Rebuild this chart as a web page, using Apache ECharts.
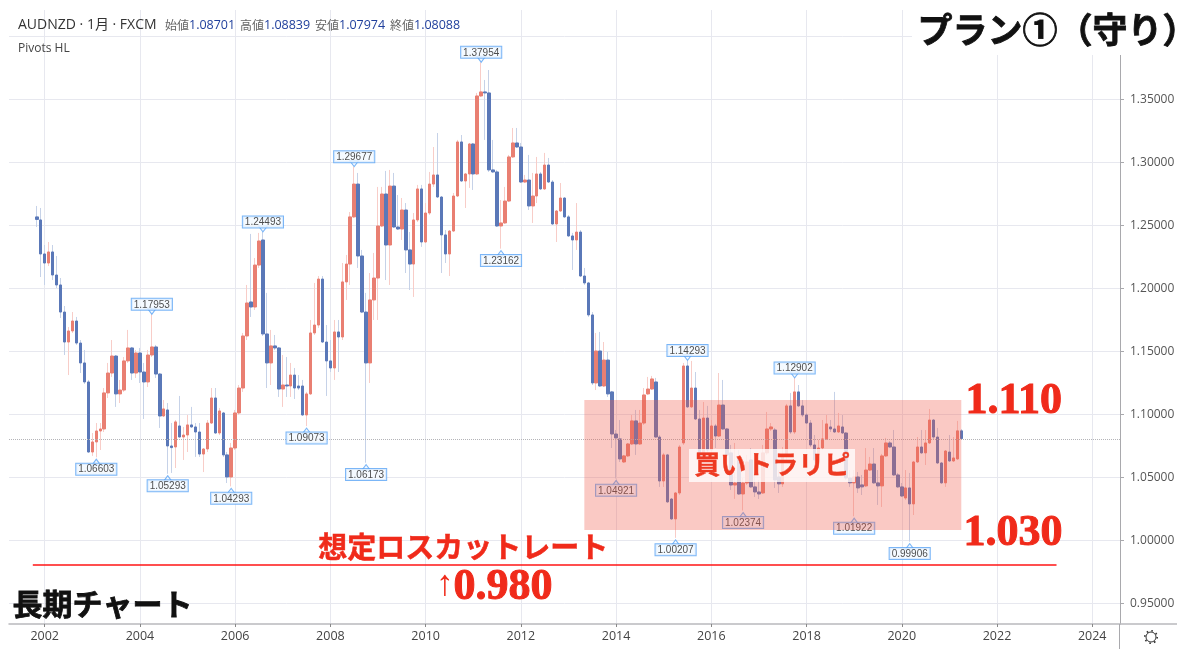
<!DOCTYPE html>
<html>
<head>
<meta charset="utf-8">
<title>AUDNZD</title>
<style>html,body{margin:0;padding:0;background:#fff}#chart{width:1200px;height:649px}</style>
<script src="https://cdn.jsdelivr.net/npm/echarts@6/dist/echarts.min.js"></script>
</head>
<body>
<div id="chart"></div>
<script>
// 月足 2001-11 .. 2021-04
var firstBar = 7; // index of 2001-11 on the axis, axis starts 2001-04
var opens = [
1.2568,1.2544,1.2274,1.2202,1.2290,1.2107,1.2028,1.1813,1.1575,1.1663,
1.1742,1.1567,1.1409,1.1258,1.0702,1.0782,1.0869,1.0885,1.1171,1.1329,
1.1464,1.1163,1.1194,1.1425,1.1528,1.1329,1.1488,1.1337,1.1258,1.1472,
1.1536,1.1321,1.0988,1.1036,1.0750,1.0742,1.0909,1.0821,1.0837,1.0917,
1.0901,1.0861,1.0686,1.0726,1.0932,1.1131,1.0853,1.1012,1.0679,1.0504,
1.0734,1.1012,1.1210,1.1623,1.1893,1.1853,1.2186,1.2385,1.1639,1.1409,
1.1544,1.1528,1.1202,1.1234,1.1226,1.1313,1.1226,1.1226,1.0996,1.1163,
1.1647,1.1710,1.2075,1.1575,1.1425,1.1369,1.1655,1.1615,1.2052,1.2194,
1.2568,1.2829,1.2258,1.1813,1.1409,1.1909,1.2083,1.2496,1.2750,1.2345,
1.2813,1.2488,1.2472,1.2623,1.2306,1.2194,1.2544,1.2790,1.2369,1.2599,
1.2829,1.2901,1.2726,1.2425,1.2274,1.2456,1.2734,1.3163,1.2853,1.2909,
1.3147,1.2909,1.3528,1.3560,1.3552,1.2941,1.2925,1.2496,1.2520,1.2694,
1.3044,1.3155,1.3123,1.2845,1.2861,1.2655,1.2734,1.2909,1.2790,1.2980,
1.2845,1.2512,1.2615,1.2718,1.2568,1.2417,1.2385,1.2448,1.2099,1.2044,
1.1790,1.1250,1.1504,1.1226,1.1432,1.1179,1.0845,1.0806,1.0623,1.0671,
1.0766,1.0949,1.0766,1.0932,1.1163,1.1202,1.1258,1.0821,1.0472,1.0679,
1.0329,1.0171,1.0377,1.0774,1.1385,1.1060,1.1210,1.0964,1.0655,1.0972,
1.0718,1.0909,1.0829,1.1075,1.0885,1.0695,1.0440,1.0655,1.0369,1.0456,
1.0639,1.0425,1.0385,1.0377,1.0695,1.0885,1.0877,1.0504,1.0449,1.0679,
1.1068,1.0861,1.1179,1.1068,1.0996,1.0932,1.0758,1.0639,1.0734,1.0806,
1.0901,1.0885,1.0861,1.0901,1.0853,1.0496,1.0457,1.0504,1.0441,1.0433,
1.0559,1.0607,1.0457,1.0433,1.0671,1.0774,1.0742,1.0520,1.0425,1.0337,
1.0417,1.0290,1.0623,1.0742,1.0695,1.0774,1.0956,1.0821,1.0615,1.0457,
1.0702,1.0631,1.0647,1.08701];
var closes = [
1.2548,1.2274,1.2202,1.2290,1.2107,1.2028,1.1813,1.1575,1.1663,1.1742,
1.1567,1.1409,1.1258,1.0702,1.0782,1.0869,1.0885,1.1171,1.1329,1.1464,
1.1163,1.1194,1.1425,1.1528,1.1329,1.1488,1.1337,1.1258,1.1472,1.1536,
1.1321,1.0988,1.1044,1.0750,1.0737,1.0941,1.0821,1.0837,1.0917,1.0901,
1.0861,1.0686,1.0726,1.0932,1.1131,1.0853,1.1028,1.0679,1.0504,1.0734,
1.1012,1.1210,1.1623,1.1885,1.1853,1.2186,1.2377,1.1639,1.1409,1.1544,
1.1528,1.1202,1.1234,1.1226,1.1313,1.1210,1.1210,1.0996,1.1163,1.1647,
1.1710,1.2075,1.1575,1.1425,1.1369,1.1655,1.1615,1.2052,1.2194,1.2568,
1.2829,1.2258,1.1813,1.1409,1.1909,1.2083,1.2496,1.2750,1.2345,1.2813,
1.2488,1.2472,1.2623,1.2306,1.2194,1.2544,1.2790,1.2369,1.2599,1.2829,
1.2901,1.2726,1.2425,1.2274,1.2456,1.2734,1.3163,1.2853,1.2909,1.3147,
1.2909,1.3528,1.3560,1.3552,1.2941,1.2925,1.2496,1.2520,1.2694,1.3044,
1.3155,1.3123,1.2845,1.2861,1.2655,1.2734,1.2909,1.2790,1.2980,1.2845,
1.2512,1.2615,1.2718,1.2568,1.2417,1.2385,1.2448,1.2099,1.2044,1.1790,
1.1250,1.1504,1.1226,1.1432,1.1163,1.0845,1.0814,1.0647,1.0671,1.0766,
1.0949,1.0766,1.0932,1.1155,1.1202,1.1282,1.0821,1.0472,1.0679,1.0306,
1.0171,1.0377,1.0742,1.1385,1.1060,1.1210,1.0964,1.0655,1.0972,1.0718,
1.0909,1.0829,1.1075,1.0885,1.0679,1.0440,1.0456,1.0369,1.0456,1.0623,
1.0425,1.0385,1.0369,1.0695,1.0885,1.0901,1.0480,1.0449,1.0679,1.1068,
1.0861,1.1179,1.1068,1.0996,1.0932,1.0758,1.0639,1.0734,1.0806,1.0925,
1.0885,1.0861,1.0909,1.0853,1.0496,1.0457,1.0504,1.0417,1.0425,1.0559,
1.0607,1.0457,1.0433,1.0671,1.0774,1.0742,1.0520,1.0425,1.0353,1.0417,
1.0290,1.0623,1.0742,1.0695,1.0774,1.0956,1.0821,1.0615,1.0457,1.0710,
1.0631,1.0655,1.0870,1.08088];
var lows = [
1.2488,1.2091,1.2028,1.2178,1.2067,1.2004,1.1766,1.1472,1.1313,1.1647,
1.1552,1.1329,1.1242,1.0695,1.0671,1.06603,1.0718,1.0861,1.1131,1.1298,
1.1060,1.1091,1.1179,1.1409,1.1274,1.1290,1.1250,1.0964,1.1218,1.1456,
1.1290,1.0893,1.0980,1.05293,1.0536,1.0575,1.0817,1.0639,1.0702,1.0893,
1.0663,1.0663,1.0543,1.0702,1.0925,1.0845,1.0837,1.0663,1.0456,1.04293,
1.0718,1.0996,1.1179,1.1591,1.1774,1.1829,1.2163,1.1623,1.1210,1.1234,
1.1512,1.1139,1.1060,1.1139,1.1139,1.1123,1.1194,1.0988,1.09073,1.1155,
1.1631,1.1687,1.1567,1.1147,1.1337,1.1274,1.1337,1.1591,1.1909,1.2028,
1.2560,1.2163,1.1805,1.06173,1.1250,1.1750,1.1750,1.2488,1.2067,1.2028,
1.2480,1.2464,1.2385,1.2123,1.1988,1.1933,1.2528,1.2330,1.2361,1.2583,
1.2806,1.2718,1.2123,1.2202,1.2099,1.2448,1.2726,1.2845,1.2639,1.2798,
1.2782,1.2901,1.3520,1.3179,1.2925,1.2917,1.2488,1.23162,1.2512,1.2686,
1.3036,1.3115,1.2837,1.2837,1.2623,1.2520,1.2678,1.2782,1.2782,1.2837,
1.2504,1.2369,1.2607,1.2560,1.2409,1.2147,1.2306,1.2091,1.2028,1.1774,
1.1234,1.1194,1.1218,1.1218,1.1139,1.0734,1.04921,1.0623,1.0615,1.0663,
1.0758,1.0679,1.0758,1.0917,1.1155,1.1194,1.0814,1.0425,1.0425,1.0298,
1.0163,1.00207,1.0361,1.0758,1.1052,1.1052,1.0956,1.0623,1.0639,1.0679,
1.0559,1.0734,1.0821,1.0877,1.0559,1.0401,1.0330,1.0361,1.02374,1.0440,
1.0417,1.0345,1.0329,1.0369,1.0679,1.0869,1.0417,1.0377,1.0425,1.0623,
1.0845,1.0845,1.1060,1.0980,1.0925,1.0742,1.0520,1.0599,1.0718,1.0798,
1.0861,1.0853,1.0853,1.0845,1.0480,1.0425,1.01922,1.0377,1.0361,1.0425,
1.0551,1.0449,1.0282,1.0266,1.0663,1.0734,1.0512,1.0417,1.0345,1.0321,
0.99906,1.0202,1.0615,1.0687,1.0599,1.0766,1.0798,1.0607,1.0449,1.0425,
1.0623,1.0623,1.0639,1.07974];
var highs = [
1.2655,1.2639,1.2345,1.2369,1.2345,1.2258,1.2083,1.1861,1.1694,1.1813,
1.1774,1.1591,1.1512,1.1274,1.0853,1.0932,1.0932,1.1210,1.1409,1.1591,
1.1472,1.1274,1.1456,1.1671,1.1536,1.1512,1.1528,1.1409,1.1512,1.17953,
1.1552,1.1329,1.1115,1.1091,1.0932,1.0956,1.1147,1.0901,1.0996,1.1060,
1.0932,1.0932,1.0734,1.0956,1.1210,1.1210,1.1052,1.1020,1.0702,1.0774,
1.1036,1.1234,1.1647,1.2028,1.2433,1.2242,1.2441,1.24493,1.1965,1.1671,
1.1631,1.1536,1.1472,1.1456,1.1409,1.1369,1.1313,1.1274,1.1179,1.1750,
1.2044,1.2099,1.2099,1.1710,1.1591,1.1750,1.1750,1.2202,1.2266,1.2607,
1.29677,1.2917,1.2306,1.1965,1.2123,1.2282,1.2806,1.2806,1.2933,1.2941,
1.2917,1.2742,1.2718,1.2678,1.2448,1.2599,1.2822,1.2822,1.2678,1.2925,
1.3123,1.3234,1.2734,1.2464,1.2464,1.2758,1.3179,1.3218,1.2917,1.3155,
1.3155,1.3552,1.37954,1.3655,1.3734,1.3179,1.2941,1.2702,1.2806,1.3060,
1.3274,1.3274,1.3155,1.2901,1.3060,1.2917,1.3044,1.2925,1.3076,1.3036,
1.2861,1.2623,1.2837,1.2726,1.2583,1.2441,1.2678,1.2464,1.2163,1.2052,
1.1813,1.1647,1.1655,1.1575,1.1496,1.1187,1.0877,1.0956,1.0679,1.0774,
1.0996,1.1036,1.1036,1.1210,1.1298,1.1306,1.1290,1.0837,1.0695,1.0687,
1.0337,1.0385,1.0758,1.1409,1.14293,1.1425,1.1337,1.1036,1.1099,1.1068,
1.0956,1.0925,1.1329,1.1274,1.0893,1.0758,1.0774,1.0718,1.0496,1.0679,
1.0734,1.0559,1.0480,1.0758,1.1020,1.0932,1.0893,1.0559,1.0742,1.1084,
1.1171,1.12902,1.1234,1.1115,1.1012,1.0956,1.0837,1.0798,1.0956,1.0996,
1.0956,1.1179,1.1012,1.0996,1.0861,1.0559,1.0559,1.0543,1.0520,1.0734,
1.0663,1.0734,1.0559,1.0687,1.0814,1.0790,1.0877,1.0536,1.0456,1.0559,
1.0536,1.0631,1.0821,1.0877,1.0877,1.1044,1.0964,1.0893,1.0623,1.0718,
1.0837,1.0821,1.0949,1.08839];

// Pivots HL, 位置は opens の添字
var pivotHighBars = [29,57,80,112,164,191];
var pivotHighValues = [1.17953,1.24493,1.29677,1.37954,1.14293,1.12902];
var pivotLowBars = [15,33,49,68,83,117,146,161,178,206,220];
var pivotLowValues = [1.06603,1.05293,1.04293,1.09073,1.06173,1.23162,1.04921,1.00207,1.02374,1.01922,0.99906];

var yTicks = [0.95,1.00,1.05,1.10,1.15,1.20,1.25,1.30,1.35];
var yGridTicks = yTicks.concat([1.40]);
var lastClose = 1.08088;
var stopLossLevel = 0.981;
var rangeTop = 1.1115, rangeBottom = 1.0083;

var categories = [];
(function(){
  var y = 2001, m = 4;
  for (var i = 0; i < 281; i++) {
    categories.push(y + '-' + (m < 10 ? '0' + m : m));
    m++;
    if (m > 12) { m = 1; y++; }
  }
})();

function isEvenYearStart(index){
  var c = categories[index];
  return c.slice(5) === '01' && parseInt(c.slice(0,4),10) % 2 === 0;
}

var wickData = [], bodyData = [];
for (var p = 0; p < firstBar; p++) {
  wickData.push(['-','-','-','-']);
  bodyData.push(['-','-','-','-']);
}
for (var k = 0; k < opens.length; k++) {
  wickData.push([opens[k],closes[k],lows[k],highs[k]]);
  bodyData.push([opens[k],closes[k],Math.min(opens[k],closes[k]),Math.max(opens[k],closes[k])]);
}

function pivotPoints(bars,values){
  return bars.map(function(b,i){ return [b + firstBar, values[i]]; });
}

var gridColor = '#e7e8ef';
var pivotLabel = function(pos,dist){
  return {
    show:true, position:pos, distance:dist,
    formatter:function(d){ return d.value[1].toFixed(5); },
    fontFamily:'Liberation Sans', fontSize:10, color:'#222',
    backgroundColor:'#f3f9ff', borderColor:'#5aa4f5', borderWidth:1, padding:[1,2,0,2]
  };
};

function ohlcText(left,name,val){
  return {type:'text', z:20, left:left, top:19, style:{
    rich:{
      g:{fontFamily:'Noto Sans CJK JP',fontSize:12,fill:'#666'},
      b:{fontFamily:'Open Sans',fontSize:12.5,fill:'#1f3f9c'}
    },
    text:'{g|'+name+'}{b|'+val+'}'
  }};
}

var chart = echarts.init(document.getElementById('chart'));
chart.setOption({
  animation:false,
  backgroundColor:'#fff',
  grid:{left:9, right:80, top:10, bottom:25, containLabel:false},
  xAxis:{
    type:'category', data:categories, boundaryGap:false,
    axisLine:{lineStyle:{color:'#b9b9bd',width:1.5}},
    axisTick:{length:3, interval:isEvenYearStart, lineStyle:{color:'#888'}},
    axisLabel:{interval:isEvenYearStart, hideOverlap:false,
      formatter:function(v){ return v.slice(0,4); },
      fontFamily:'Open Sans', fontSize:12.5, color:'#444', margin:6},
    splitLine:{show:true, interval:isEvenYearStart, lineStyle:{color:gridColor,width:1}}
  },
  yAxis:{
    type:'value', position:'right', scale:true, min:0.9337, max:1.42103,
    axisLine:{show:true, onZero:false, lineStyle:{color:'#a9a9ad',width:1}},
    axisTick:{show:true, length:4, customValues:yGridTicks, lineStyle:{color:'#a9a9ad'}},
    axisLabel:{customValues:yTicks, margin:10,
      formatter:function(v){ return Number(v).toFixed(5); },
      fontFamily:'Open Sans', fontSize:12, color:'#555'},
    splitLine:{show:true, lineStyle:{color:gridColor,width:1}}
  },
  series:[
    {
      name:'wick', type:'candlestick', data:wickData, barWidth:1, z:2,
      itemStyle:{color:'#f8cdc8',color0:'#c6d2e8',borderColor:'#f8cdc8',borderColor0:'#c6d2e8',borderWidth:1},
      silent:true
    },
    {
      name:'AUDNZD', type:'candlestick', data:bodyData, barWidth:3, z:2,
      itemStyle:{color:'#e97f72',color0:'#5a78b8',borderColor:'#e97f72',borderColor0:'#5a78b8',borderWidth:1},
      markLine:{
        silent:true, symbol:'none', z:3, label:{show:false},
        data:[
          {yAxis:lastClose, lineStyle:{color:'#b4b4b8',type:'dotted',width:1}},
          [{coord:[6,stopLossLevel],lineStyle:{color:'#ff1414',type:'solid',width:1.6}},{coord:[264,stopLossLevel]}]
        ]
      },
      markArea:{
        silent:true, z:6, label:{show:false},
        itemStyle:{color:'rgba(240,90,75,0.33)'},
        data:[[{coord:[145,rangeTop]},{coord:[240,rangeBottom]}]]
      }
    },
    {
      name:'pivot high', type:'scatter', data:pivotPoints(pivotHighBars,pivotHighValues), z:4,
      symbol:'triangle', symbolRotate:180, symbolSize:[9,6], symbolOffset:[0,-3],
      itemStyle:{color:'#f3f9ff',borderColor:'#5aa4f5',borderWidth:1},
      label:pivotLabel('top',-2)
    },
    {
      name:'pivot low', type:'scatter', data:pivotPoints(pivotLowBars,pivotLowValues), z:4,
      symbol:'triangle', symbolSize:[9,6], symbolOffset:[0,5],
      itemStyle:{color:'#f3f9ff',borderColor:'#5aa4f5',borderWidth:1},
      label:pivotLabel('bottom',-2)
    }
  ],
  graphic:[
    {type:'text', z:20, left:18, top:18, style:{text:'AUDNZD · 1月 · FXCM',fontFamily:'Open Sans, Noto Sans CJK JP',fontSize:14,fill:'#333'}},
    ohlcText(165,'始値','1.08701'),
    ohlcText(240,'高値','1.08839'),
    ohlcText(315,'安値','1.07974'),
    ohlcText(390,'終値','1.08088'),
    {type:'text', z:20, left:18, top:43, style:{text:'Pivots HL',fontFamily:'Open Sans',fontSize:12,fill:'#444'}},
    // タイトルの白地
    {type:'rect', z:18, shape:{x:912,y:0,width:288,height:55}, style:{fill:'#fff'}},
    {type:'text', z:20, left:917, top:12, style:{text:'プラン①（守り）',fontFamily:'Noto Sans CJK JP',fontWeight:'bold',fontSize:35,fill:'#111',stroke:'#111',lineWidth:0.8}},
    {type:'text', z:20, left:12, top:588, style:{text:'長期チャート',fontFamily:'Noto Sans CJK JP',fontWeight:'bold',fontSize:30,fill:'#111',stroke:'#111',lineWidth:0.8}},
    {type:'text', z:20, left:318, top:532, style:{text:'想定ロスカットレート',fontFamily:'Noto Sans CJK JP',fontWeight:'bold',fontSize:29,fill:'#f02a1a',stroke:'#f02a1a',lineWidth:0.5}},
    {type:'text', z:20, left:436, top:567, style:{text:'↑',fontFamily:'Liberation Sans',fontSize:36,fill:'#f02a1a'}},
    {type:'text', z:20, left:453, top:565, style:{text:'0.980',fontFamily:'Liberation Serif',fontWeight:'bold',fontSize:44,fill:'#f02a1a',stroke:'#f02a1a',lineWidth:1}},
    {type:'text', z:20, left:965, top:379, style:{text:'1.110',fontFamily:'Liberation Serif',fontWeight:'bold',fontSize:44,fill:'#f02a1a',stroke:'#f02a1a',lineWidth:1}},
    {type:'text', z:20, left:963, top:511, style:{text:'1.030',fontFamily:'Liberation Serif',fontWeight:'bold',fontSize:44,fill:'#f02a1a',stroke:'#f02a1a',lineWidth:1}},
    {type:'rect', z:18, shape:{x:689,y:449,width:166,height:33}, style:{fill:'rgba(255,255,255,0.78)'}},
    {type:'text', z:20, left:694, top:451, style:{text:'買いトラリピ',fontFamily:'Noto Sans CJK JP',fontWeight:'bold',fontSize:26,fill:'#ee3a22',stroke:'#ee3a22',lineWidth:0.4}},
    // 軸の延長
    {type:'line', z:1, shape:{x1:1120,y1:624,x2:1177,y2:624}, style:{stroke:'#b9b9bd',lineWidth:1.5}},
    {type:'line', z:1, shape:{x1:1119.5,y1:624,x2:1119.5,y2:649}, style:{stroke:'#a9a9ad',lineWidth:1}},
    // 設定アイコン
    {type:'circle', z:2, shape:{cx:1151,cy:637,r:5}, style:{fill:'none',stroke:'#333',lineWidth:1}},
    {type:'circle', z:2, shape:{cx:1151,cy:637,r:6.2}, style:{fill:'none',stroke:'#333',lineWidth:1.6,lineDash:[1.6,3.2]}}
  ]
});
</script>
</body>
</html>
